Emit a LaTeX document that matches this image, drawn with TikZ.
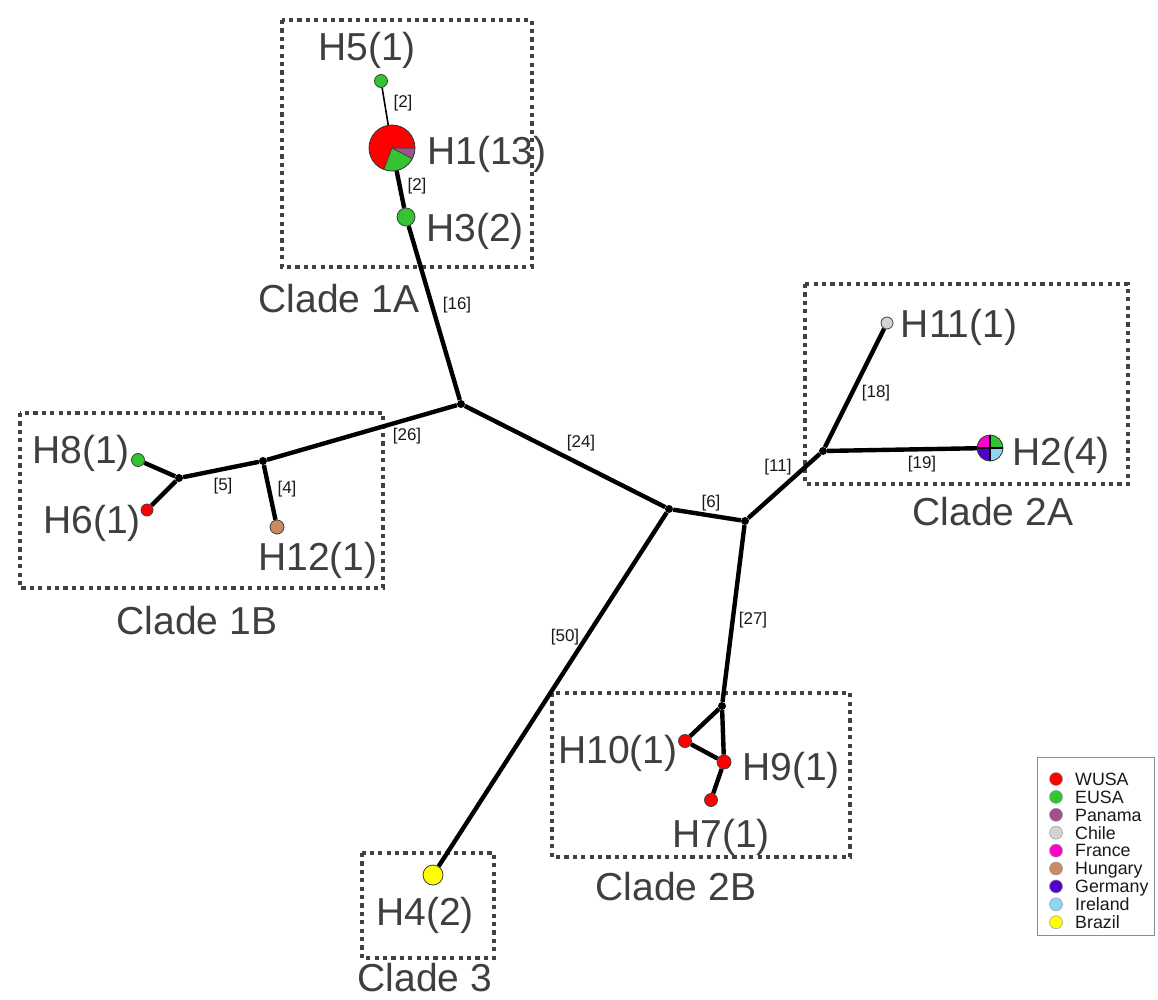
\documentclass[tikz,border=0pt]{standalone}
\usepackage{fontspec}
\setmainfont{Liberation Sans}
\definecolor{txtgray}{HTML}{3F3F3F}
\definecolor{boxgray}{HTML}{404040}
\definecolor{wusa}{HTML}{FF0000}
\definecolor{eusa}{HTML}{33C433}
\definecolor{panama}{HTML}{A0508E}
\definecolor{chile}{HTML}{D2D3D5}
\definecolor{france}{HTML}{FF00CC}
\definecolor{hungary}{HTML}{C98B65}
\definecolor{germany}{HTML}{5200CC}
\definecolor{ireland}{HTML}{8FD4F4}
\definecolor{brazil}{HTML}{FFFF00}
\tikzset{
  hap/.style={circle, draw=black!75, line width=0.8pt, inner sep=0pt, minimum size=#1},
  piebase/.style={circle, inner sep=0pt, minimum size=#1},
  jn/.style={circle, fill=black, inner sep=0pt, minimum size=8pt},
  edge/.style={line width=4.4pt, black},
  thinedge/.style={line width=1.6pt, black},
  lbl/.style={font=\fontsize{39}{39}\selectfont, text=txtgray, anchor=base, inner sep=0pt},
  elbl/.style={font=\fontsize{17}{17}\selectfont, text=black!90, inner sep=0pt},
  legtxt/.style={font=\fontsize{17.8}{17.8}\selectfont, text=black!90, anchor=base west, inner sep=0pt},
  legdot/.style={circle, draw=black!40, line width=0.5pt, inner sep=0pt, minimum size=13pt},
  cladebox/.style={draw=boxgray, line width=3.6pt, dash pattern=on 4.2pt off 4.2pt}
}
\begin{document}
\begin{tikzpicture}[x=1pt,y=1pt]
\useasboundingbox (0,0) rectangle (1158,-1000);
\fill[white] (0,0) rectangle (1158,-1000);

% clade boxes
\draw[cladebox] (282,-20) rectangle (532,-267);
\draw[cladebox] (20,-413) rectangle (383,-588);
\draw[cladebox] (805,-284) rectangle (1128,-484);
\draw[cladebox] (552,-693) rectangle (850,-857);
\draw[cladebox] (362,-853) rectangle (494,-958);

% junctions
\node[jn] (jA) at (461,-404) {};
\node[jn] (j1B) at (263,-461) {};
\node[jn] (j1C) at (179,-478) {};
\node[jn] (jB) at (669,-509) {};
\node[jn] (jC) at (745,-521) {};
\node[jn] (j2A) at (823,-451) {};
\node[jn] (j2B) at (722,-706) {};

% haplotypes
\node[hap=13pt, fill=eusa] (h5) at (381,-81) {};
\node[piebase=46pt] (h1) at (392,-148) {};
\node[hap=18pt, fill=eusa] (h3) at (406,-217) {};
\node[hap=12pt, fill=chile] (h11) at (887,-323) {};
\node[piebase=26pt] (h2) at (990,-448) {};
\node[hap=13pt, fill=eusa] (h8) at (138,-460) {};
\node[hap=12pt, fill=wusa] (h6) at (147,-510) {};
\node[hap=14pt, fill=hungary] (h12) at (277,-527) {};
\node[hap=13pt, fill=wusa] (h10) at (685,-741) {};
\node[hap=14pt, fill=wusa] (h9) at (724,-762) {};
\node[hap=13pt, fill=wusa] (h7) at (711,-800) {};
\node[hap=20pt, fill=brazil] (h4) at (433,-875) {};

% pie H1 (13)
\fill[wusa] (h1.center) -- ++(0:23) arc[start angle=0, end angle=249.2, radius=23] -- cycle;
\fill[eusa] (h1.center) -- ++(249.2:23) arc[start angle=249.2, end angle=332.3, radius=23] -- cycle;
\fill[panama] (h1.center) -- ++(332.3:23) arc[start angle=332.3, end angle=360, radius=23] -- cycle;
\draw[black!80, line width=0.6pt] (h1.center) -- ++(0:23) (h1.center) -- ++(249.2:23) (h1.center) -- ++(332.3:23);
\draw[black!80, line width=0.8pt] (h1.center) circle[radius=23];

% pie H2 (4)
\fill[eusa] (h2.center) -- ++(0:13) arc[start angle=0, end angle=90, radius=13] -- cycle;
\fill[france] (h2.center) -- ++(90:13) arc[start angle=90, end angle=180, radius=13] -- cycle;
\fill[germany] (h2.center) -- ++(180:13) arc[start angle=180, end angle=270, radius=13] -- cycle;
\fill[ireland] (h2.center) -- ++(270:13) arc[start angle=270, end angle=360, radius=13] -- cycle;
\draw[black, line width=1.2pt] (h2.north) -- (h2.south) (h2.west) -- (h2.east);
\draw[black!80, line width=0.8pt] (h2.center) circle[radius=13];

% edges
\draw[thinedge] (h5) -- (h1);
\draw[edge] (h1) -- (h3);
\draw[edge] (h3) -- (jA);
\draw[edge] (jA) -- (j1B);
\draw[edge] (j1B) -- (j1C);
\draw[edge] (j1C) -- (h8);
\draw[edge] (j1C) -- (h6);
\draw[edge] (j1B) -- (h12);
\draw[edge] (jA) -- (jB);
\draw[edge] (jB) -- (jC);
\draw[edge] (jC) -- (j2A);
\draw[edge] (j2A) -- (h11);
\draw[edge] (j2A) -- (h2);
\draw[edge] (jC) -- (j2B);
\draw[edge] (j2B) -- (h10);
\draw[edge] (j2B) -- (h9);
\draw[edge] (h10) -- (h9);
\draw[edge] (h9) -- (h7);
\draw[edge] (jB) -- (h4);

% edge labels
\node[elbl] (e1) at (403,-103) {[2]};
\node[elbl] (e2) at (417,-186) {[2]};
\node[elbl] (e3) at (457,-305) {[16]};
\node[elbl] (e4) at (407,-436) {[26]};
\node[elbl] (e5) at (223,-486) {[5]};
\node[elbl] (e6) at (287,-489) {[4]};
\node[elbl] (e7) at (581,-443) {[24]};
\node[elbl] (e8) at (711,-503) {[6]};
\node[elbl] (e9) at (778,-467) {[11]};
\node[elbl] (e10) at (876,-393) {[18]};
\node[elbl] (e11) at (922,-464) {[19]};
\node[elbl] (e12) at (753,-620) {[27]};
\node[elbl] (e13) at (565,-637) {[50]};

% haplotype labels
\node[lbl] (t5) at (367,-61) {H5(1)};
\node[lbl] (t1) at (487,-165) {H1(13)};
\node[lbl] (t3) at (475,-241) {H3(2)};
\node[lbl] (t11) at (959,-337) {H11(1)};
\node[lbl] (t2) at (1061,-465) {H2(4)};
\node[lbl] (t8) at (81,-463) {H8(1)};
\node[lbl] (t6) at (92,-533) {H6(1)};
\node[lbl] (t12) at (318,-570) {H12(1)};
\node[lbl] (t10) at (618,-763) {H10(1)};
\node[lbl] (t9) at (791,-780) {H9(1)};
\node[lbl] (t7) at (721,-847) {H7(1)};
\node[lbl] (t4) at (425,-925) {H4(2)};

% clade labels
\node[lbl] (c1a) at (339,-312) {Clade 1A};
\node[lbl] (c1b) at (197,-634) {Clade 1B};
\node[lbl] (c2a) at (993,-525) {Clade 2A};
\node[lbl] (c2b) at (676,-900) {Clade 2B};
\node[lbl] (c3) at (425,-991) {Clade 3};

% legend
\draw[black!45, line width=1pt] (1037,-757) rectangle (1154,-935);
\foreach \c/\t [count=\i from 0] in {wusa/WUSA, eusa/EUSA, panama/Panama, chile/Chile, france/France, hungary/Hungary, germany/Germany, ireland/Ireland, brazil/Brazil} {
  \node[legdot, fill=\c] (ld\i) at (1056,{-779-17.9*\i}) {};
  \node[legtxt] (lt\i) at (1075,{-779-17.9*\i-6.3}) {\t};
}
\end{tikzpicture}
\end{document}
